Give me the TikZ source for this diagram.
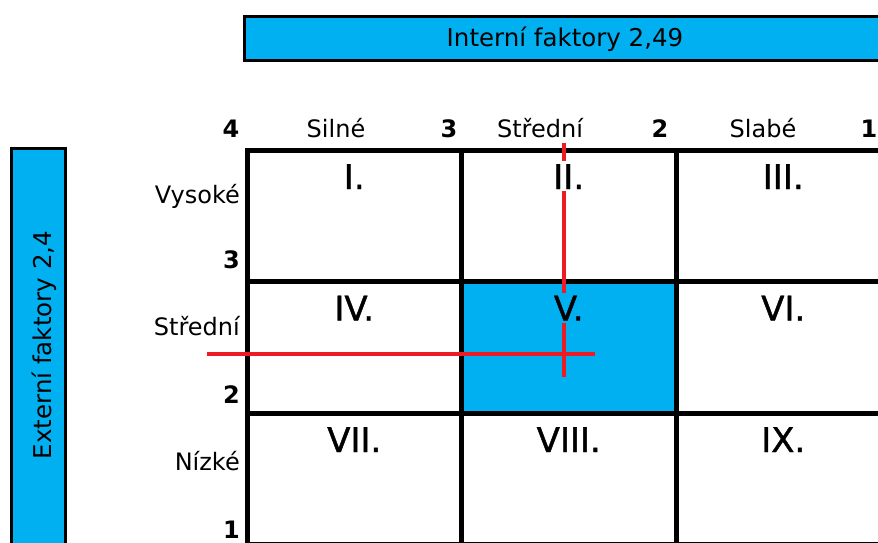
\documentclass[tikz,border=0pt]{standalone}
\usepackage{fontspec}
\setmainfont{DejaVu Sans}
\definecolor{xlblue}{HTML}{00B0F0}
\definecolor{pred}{HTML}{ED1C24}
\begin{document}
\begin{tikzpicture}[x=1pt,y=-1pt,
  cell/.style={draw=black,line width=5pt,minimum width=214.5pt,minimum height=131.5pt,inner sep=0pt,outer sep=0pt},
  bar/.style={draw=black,line width=3pt,fill=xlblue,inner sep=0pt,outer sep=0pt},
  bartext/.style={font=\fontsize{24.5}{25}\selectfont,inner sep=0pt},
  axl/.style={font=\fontsize{24}{24}\selectfont,inner sep=0pt},
  num/.style={font=\fontsize{24}{24}\selectfont\bfseries,inner sep=0pt},
  rom/.style={font=\fontsize{34}{34}\selectfont\addfontfeature{FakeBold=1.2},inner sep=2pt,text height=26pt,text depth=0pt},
  redline/.style={draw=pred,line width=4.5pt}]
\useasboundingbox (0,0) rectangle (878,543);
\clip (0,0) rectangle (878,543);
\fill[white] (0,0) rectangle (878,543);
% bars
\node[bar,minimum width=642pt,minimum height=44pt,anchor=north west] (ib) at (244,17) {};
\node[bartext] (ibt) at (565,39) {Interní faktory 2,49};
\node[bar,minimum width=54pt,minimum height=420pt,anchor=north west] (eb) at (11,148) {};
\node[bartext,rotate=90,anchor=base] (ebt) at (51,345) {Externí faktory 2,4};
% grid
\node[cell] (c11) at (354.25,215.75) {};
\node[cell] (c12) at (568.75,215.75) {};
\node[cell] (c13) at (783.25,215.75) {};
\node[cell] (c21) at (354.25,347.25) {};
\node[cell,fill=xlblue] (c22) at (568.75,347.25) {};
\node[cell] (c23) at (783.25,347.25) {};
\node[cell] (c31) at (354.25,478.75) {};
\node[cell] (c32) at (568.75,478.75) {};
\node[cell] (c33) at (783.25,478.75) {};
% top axis labels
\node[num,anchor=base] (t4) at (231,137) {4};
\node[axl,anchor=base] (ts) at (336,137) {Silné};
\node[num,anchor=base] (t3) at (449,137) {3};
\node[axl,anchor=base] (tm) at (540,137) {Střední};
\node[num,anchor=base] (t2) at (660,137) {2};
\node[axl,anchor=base] (tw) at (763,137) {Slabé};
\node[num,anchor=base] (t1) at (869,137) {1};
% left axis labels
\node[axl,anchor=base east] (lh) at (240,203) {Vysoké};
\node[num,anchor=base east] (l3) at (240,268) {3};
\node[axl,anchor=base east] (lm) at (240,335) {Střední};
\node[num,anchor=base east] (l2) at (240,403) {2};
\node[axl,anchor=base east] (ll) at (240,470) {Nízké};
\node[num,anchor=base east] (l1) at (240,538) {1};
% red cross
\coordinate (vt) at (564,143);
\coordinate (vb) at (564,377);
\coordinate (hl) at (207,354);
\coordinate (hr) at (595,354);
\draw[redline] (vt) -- (vb);
\draw[redline] (hl) -- (hr);
% cell labels
\node[rom,anchor=base] (r1) at ([yshift=-39pt]c11.north) {I.};
\node[rom,anchor=base,fill=white] (r2) at ([yshift=-39pt]c12.north) {II.};
\node[rom,anchor=base] (r3) at ([yshift=-39pt]c13.north) {III.};
\node[rom,anchor=base] (r4) at ([yshift=-39pt]c21.north) {IV.};
\node[rom,anchor=base,fill=xlblue] (r5) at ([yshift=-39pt]c22.north) {V.};
\node[rom,anchor=base] (r6) at ([yshift=-39pt]c23.north) {VI.};
\node[rom,anchor=base] (r7) at ([yshift=-39pt]c31.north) {VII.};
\node[rom,anchor=base] (r8) at ([yshift=-39pt]c32.north) {VIII.};
\node[rom,anchor=base] (r9) at ([yshift=-39pt]c33.north) {IX.};
\end{tikzpicture}
\end{document}
